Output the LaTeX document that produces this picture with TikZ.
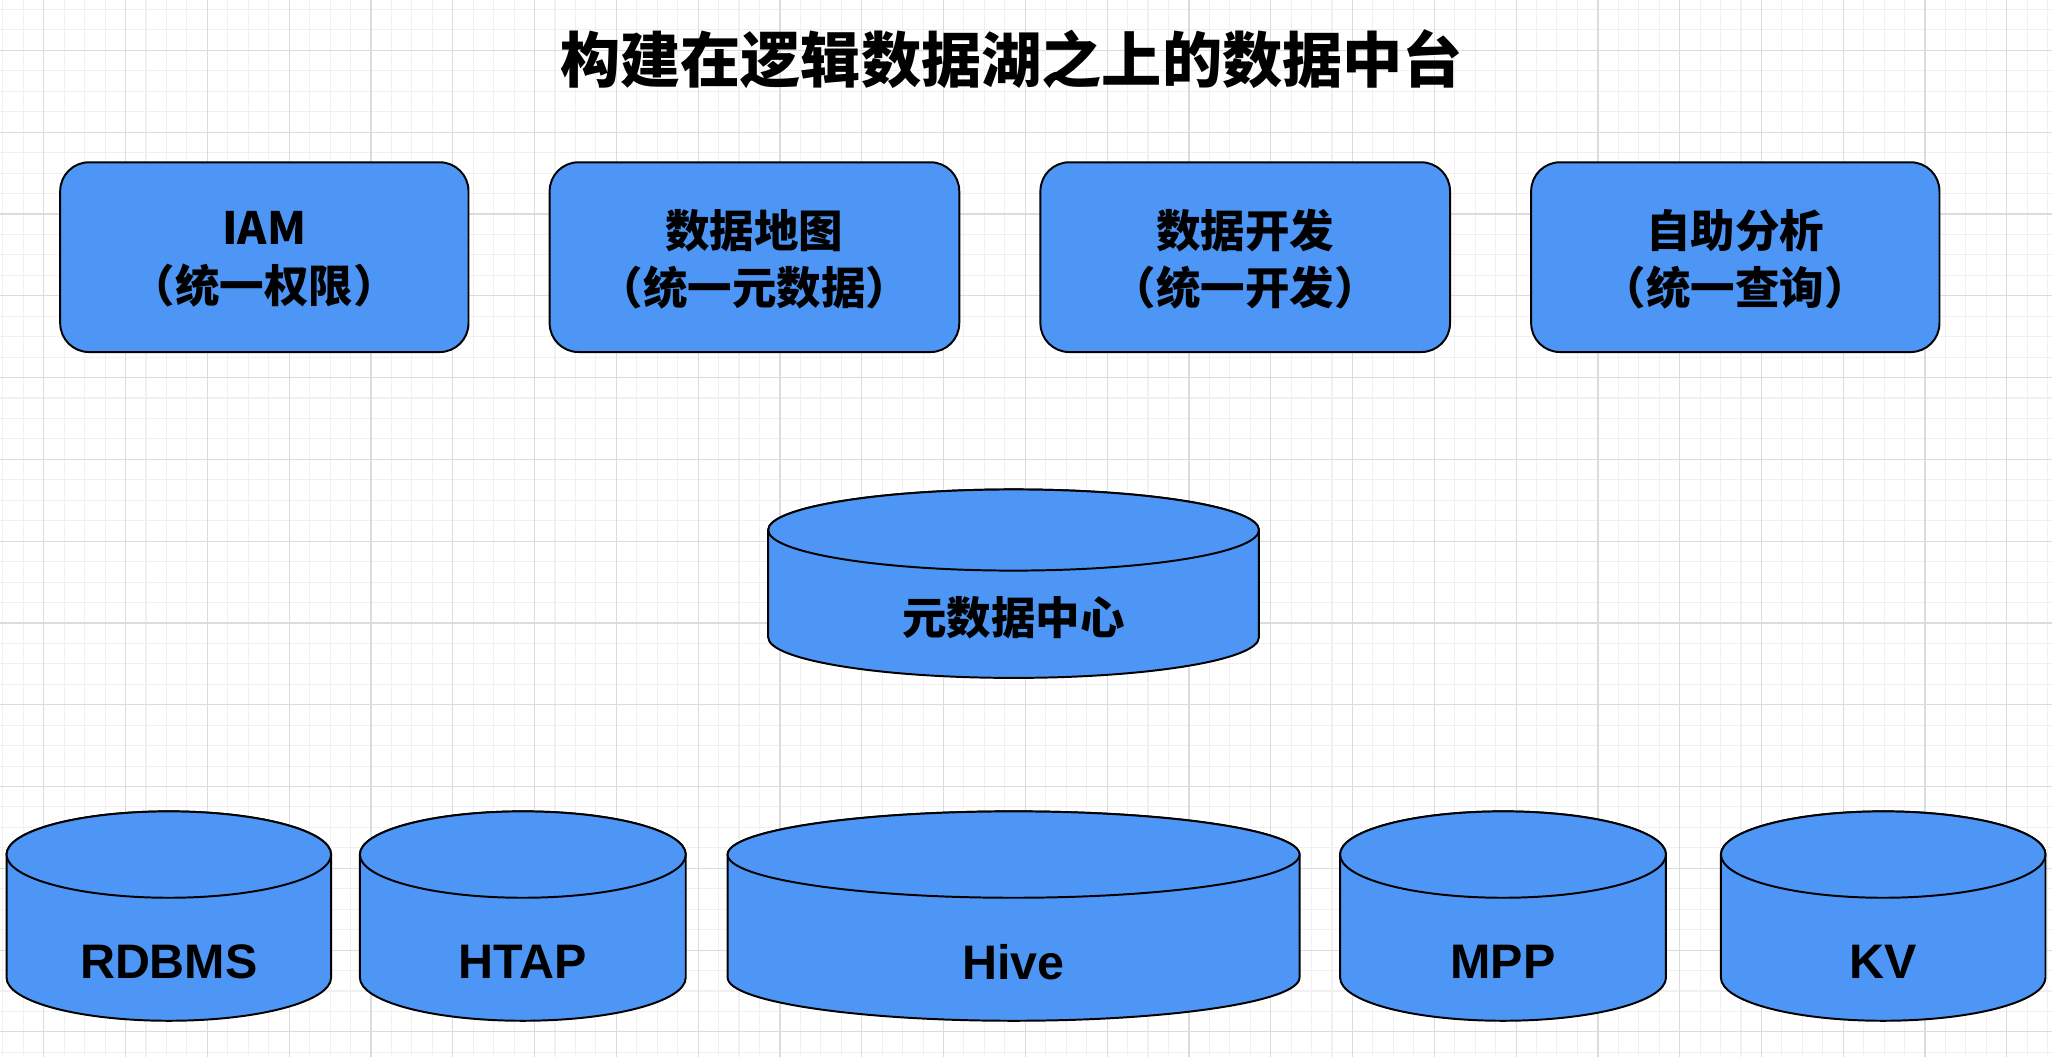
\documentclass[tikz,border=0pt]{standalone}
\usepackage{fontspec}
\setmainfont{Liberation Sans}
\newfontfamily\cjk{Noto Sans CJK SC}
\definecolor{fillblue}{HTML}{4D96F6}
\definecolor{gridmin}{HTML}{F0F0F0}
\definecolor{gridmaj}{HTML}{DCDCDC}
\tikzset{
  box/.style={draw=black,line width=1.5pt,fill=fillblue,rounded corners=22pt},
  cyl/.style={draw=black,line width=1.5pt,fill=fillblue},
  lab/.style={font=\cjk\bfseries\fontsize{34}{44}\selectfont,align=center},
  dblab/.style={font=\bfseries\fontsize{37}{44}\selectfont},
}
\newcommand{\mycyl}[5]{% x1 x2 top bottom ry
  \path[cyl] (#1,#3+#5) -- (#1,#4-#5) arc[start angle=180,end angle=0,x radius={(#2-#1)/2},y radius=#5] -- (#2,#3+#5) arc[start angle=0,end angle=-180,x radius={(#2-#1)/2},y radius=#5] -- cycle;
  \draw[cyl] (#1,#3+#5) arc[start angle=180,end angle=-180,x radius={(#2-#1)/2},y radius=#5];
}
\begin{document}
\begin{tikzpicture}[x=1pt,y=-1pt]
\useasboundingbox (0,0) rectangle (1568,808);
\fill[white] (0,0) rectangle (1568,808);
\foreach \i in {0,...,110} {\draw[gridmin,line width=0.8pt] ({2.2+\i*15.625},0) -- ({2.2+\i*15.625},808);}
\foreach \i in {0,...,55} {\draw[gridmin,line width=0.8pt] (0,{7.25+\i*15.625}) -- (1568,{7.25+\i*15.625});}
\foreach \i in {0,...,25} {\draw[gridmaj,line width=0.9pt] ({33.5+\i*62.5},0) -- ({33.5+\i*62.5},808);}
\foreach \i in {0,...,13} {\draw[gridmaj,line width=0.9pt] (0,{38.5+\i*62.5}) -- (1568,{38.5+\i*62.5});}
\node[font=\cjk\bfseries\fontsize{46}{54}\selectfont] (title) at (773,45) {构建在逻辑数据湖之上的数据中台};
\foreach \n/\xa/\xb/\t in {iam/46/358/{IAM\\（统一权限）},map/420/733/{数据地图\\（统一元数据）},dev/795/1108/{数据开发\\（统一开发）},ana/1170/1482/{自助分析\\（统一查询）}}{
  \draw[box] (\xa,124) rectangle (\xb,269);
  \node[lab] (\n) at ({(\xa+\xb)/2},198) {\t};
}
\mycyl{587}{962}{374}{518}{31}
\node[lab] (meta) at (774.5,472) {元数据中心};
\foreach \n/\xa/\xb/\t in {rdb/5/253/RDBMS,htap/275/524/HTAP,hive/556/993/Hive,mpp/1024/1273/MPP,kv/1315/1563/KV}{
  \mycyl{\xa}{\xb}{620}{780}{33}
  \node[dblab] (\n) at ({(\xa+\xb)/2},735) {\t};
}
\end{tikzpicture}
\end{document}
